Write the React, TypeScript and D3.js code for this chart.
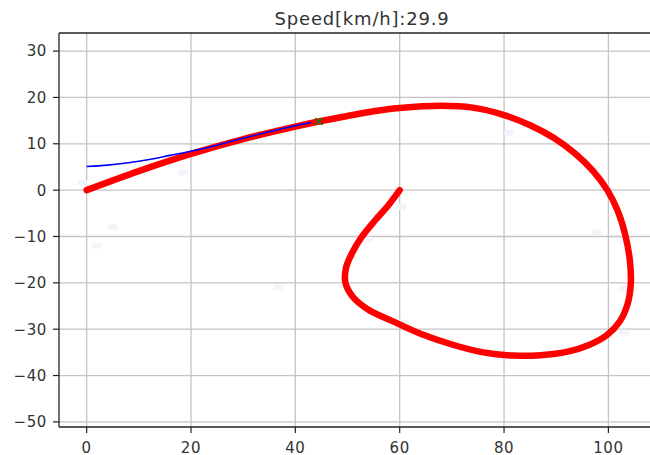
import React from 'react';
import * as d3 from 'd3';

// course the vehicle should follow (red)
const courseX = [0, 10, 20, 30, 40, 44.5, 50, 55, 60, 68, 74, 80, 85, 89.5, 93.5, 97, 99.8, 101.8, 103.2, 104.1, 104.3, 103.7, 102.2, 99.8, 96.3, 92, 87, 82, 76, 70, 64, 58.5, 54, 51, 49.6, 49.7, 50.9, 52.8, 55.3, 57.8, 60];
const courseY = [0, 4.1, 7.8, 11, 13.7, 14.8, 16, 17, 17.7, 18.2, 17.8, 16.2, 14, 11.3, 8, 4.2, 0, -4.5, -9.5, -15, -20, -24.5, -28.3, -31.2, -33.4, -34.9, -35.6, -35.7, -35, -33.3, -31, -28.2, -25.8, -23, -20, -16.8, -13.5, -10, -6.5, -3.3, 0];

// driven trajectory (blue)
const trajX = [0, 4, 8, 12, 16, 20, 25, 30, 35, 40, 43];
const trajY = [5.1, 5.4, 5.9, 6.6, 7.5, 8.4, 9.7, 11.2, 12.6, 13.9, 14.6];

// current target point
const targetX = [44.5];
const targetY = [14.8];

// very faint background marks
const faintX = [-0.7, 5, 2, 18.5, 36.7, 54, 60.4, 60.6, 81, 97.8, 103, 103];
const faintY = [1.6, -8, -12, 3.8, -21, -10.7, -3.6, -28.6, 12.4, -9.2, -21.4, -30.7];

const xTicks = [0, 20, 40, 60, 80, 100];
const yTicks = [-50, -40, -30, -20, -10, 0, 10, 20, 30];
const title = 'Speed[km/h]:29.9';

const W = 650;
const H = 455;
const left = 59, right = 659, top = 33, bottom = 427;

const App = () => {
  const x = d3.scaleLinear().domain([-5.3, 109.7]).range([left, right]);
  const y = d3.scaleLinear().domain([-51.1, 33.9]).range([bottom, top]);

  const line = d3.line<[number, number]>()
    .x(d => x(d[0]))
    .y(d => y(d[1]))
    .curve(d3.curveCatmullRom);

  const course = courseX.map((v, i) => [v, courseY[i]] as [number, number]);
  const traj = trajX.map((v, i) => [v, trajY[i]] as [number, number]);
  const fmt = (v: number) => String(v).replace('-', '\u2212');
  const font = 'DejaVu Sans, sans-serif';

  return (
    <svg width={W} height={H} style={{ position: 'absolute', left: 0, top: 0, background: '#fff' }}>
      <defs>
        <clipPath id="plot">
          <rect x={left} y={top} width={right - left} height={bottom - top} />
        </clipPath>
      </defs>

      {/* grid */}
      {xTicks.map(t => (
        <line key={'gx' + t} x1={x(t)} x2={x(t)} y1={top} y2={bottom} stroke="#c4c4c4" strokeWidth={1.3} />
      ))}
      {yTicks.map(t => (
        <line key={'gy' + t} x1={left} x2={right} y1={y(t)} y2={y(t)} stroke="#c4c4c4" strokeWidth={1.3} />
      ))}

      <g clipPath="url(#plot)">
        {faintX.map((v, i) => (
          <rect key={'f' + i} x={x(v) - 5} y={y(faintY[i]) - 3} width={10} height={6} rx={2} fill="#f4f4fd" />
        ))}
        <path d={line(course) || ''} fill="none" stroke="#ff0000" strokeWidth={6.5} strokeLinecap="round" strokeLinejoin="round" />
        <path d={line(traj) || ''} fill="none" stroke="#0000ff" strokeWidth={1.6} />
        {targetX.map((v, i) => {
          const cx = x(v), cy = y(targetY[i]), s = 3.5;
          return (
            <g key={'t' + i} stroke="#008000" strokeWidth={1.5}>
              <line x1={cx - s} y1={cy - s} x2={cx + s} y2={cy + s} />
              <line x1={cx - s} y1={cy + s} x2={cx + s} y2={cy - s} />
            </g>
          );
        })}
      </g>

      {/* spines */}
      <line x1={left} x2={left} y1={top} y2={bottom} stroke="#222" strokeWidth={1.3} />
      <line x1={left} x2={right} y1={bottom} y2={bottom} stroke="#222" strokeWidth={1.3} />
      <line x1={left} x2={right} y1={top} y2={top} stroke="#222" strokeWidth={1.3} />
      <line x1={right} x2={right} y1={top} y2={bottom} stroke="#222" strokeWidth={1.3} />

      {/* y axis */}
      {yTicks.map(t => (
        <g key={'ty' + t}>
          <line x1={left - 6} x2={left} y1={y(t)} y2={y(t)} stroke="#222" strokeWidth={1.2} />
          <text x={left - 12} y={y(t)} dy="0.36em" textAnchor="end" fontFamily={font} fontSize={15} letterSpacing={0.6} fill="#333">{fmt(t)}</text>
        </g>
      ))}

      {/* x axis */}
      {xTicks.map(t => (
        <g key={'tx' + t}>
          <line x1={x(t)} x2={x(t)} y1={bottom} y2={bottom + 6} stroke="#222" strokeWidth={1.2} />
          <text x={x(t)} y={452.5} textAnchor="middle" fontFamily={font} fontSize={15} letterSpacing={0.6} fill="#333">{fmt(t)}</text>
        </g>
      ))}

      <text x={(left + right) / 2 + 3} y={25} textAnchor="middle" fontFamily={font} fontSize={18} letterSpacing={0.8} fill="#333">{title}</text>
    </svg>
  );
};

export default App;
